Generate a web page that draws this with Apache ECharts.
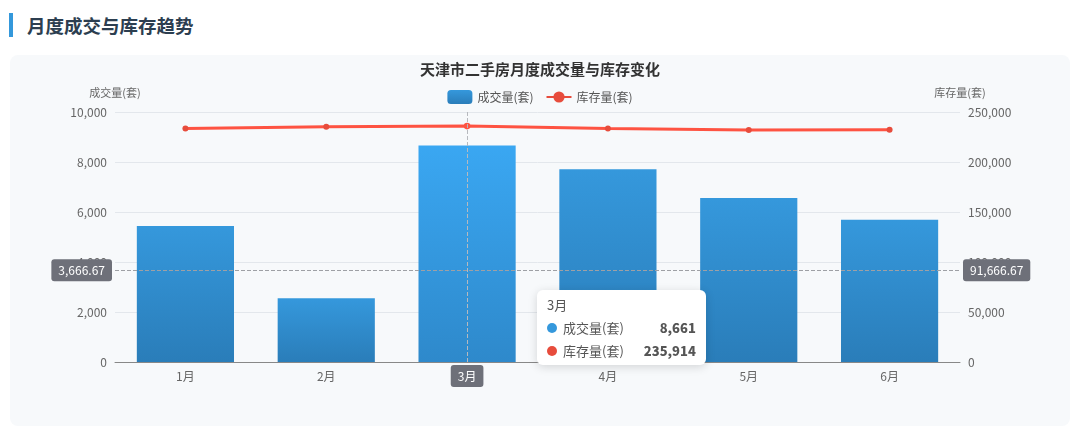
<!DOCTYPE html>
<html lang="zh-CN">
<head>
    <meta charset="UTF-8">
    <title>月度成交与库存趋势</title>
    <script src="https://cdn.jsdelivr.net/npm/echarts@6/dist/echarts.min.js"></script>
    <style>
        html, body {
            margin: 0;
            padding: 0;
            background: #fff;
            font-family: "Noto Sans CJK SC", "Noto Sans", sans-serif;
        }
        .section-title {
            position: absolute;
            left: 9px;
            top: 13px;
            height: 24px;
            line-height: 24px;
            border-left: 4px solid #3498db;
            padding-left: 14px;
            margin: 0;
            font-size: 18.5px;
            font-weight: bold;
            color: #2c3e50;
        }
        #trend-chart {
            position: absolute;
            left: 10px;
            top: 55px;
            width: 1060px;
            height: 371px;
            background: #f7f9fb;
            border-radius: 8px;
        }
    </style>
</head>
<body>
<!--标题-->
<h2 class="section-title">月度成交与库存趋势</h2>
<div id="trend-chart"></div>

<script>
    // 数据
    const months = ['1月', '2月', '3月', '4月', '5月', '6月'];
    const dealCount = [5440, 2550, 8661, 7710, 6560, 5690];
    const stockCount = [233600, 235200, 235914, 233500, 231900, 232200];

    let myChart = echarts.init(document.getElementById('trend-chart'));
    let myOption = {
        textStyle: {
            fontFamily: '"Noto Sans CJK SC", sans-serif'
        },
        title: {
            text: '天津市二手房月度成交量与库存变化',
            left: 'center',
            top: 2,
            textStyle: {
                fontSize: 15,
                fontWeight: 'bold',
                color: '#333'
            }
        },
        tooltip: {
            trigger: 'axis',
            borderWidth: 0,
            padding: [8, 10],
            extraCssText: 'box-shadow: 0 2px 10px rgba(0,0,0,0.15); border-radius: 6px;',
            textStyle: {fontSize: 13, color: '#555'},
            axisPointer: {
                type: 'cross',
                label: {backgroundColor: '#6e7079'}
            }
        },
        legend: {
            top: 30,
            left: 'center',
            itemGap: 12,
            textStyle: {
                color: '#555',
                fontSize: 12
            },
            data: ['成交量(套)', '库存量(套)']
        },
        grid: {
            left: 105,
            right: 110,
            top: 57,
            bottom: 64
        },
        xAxis: {
            type: 'category',
            data: months,
            axisLine: {lineStyle: {color: '#888'}},
            axisLabel: {color: '#666', fontSize: 12}
        },
        yAxis: [
            {
                type: 'value',
                name: '成交量(套)',
                min: 0,
                max: 10000,
                interval: 2000,
                nameGap: 14,
                nameTextStyle: {color: '#666', fontSize: 11},
                axisLabel: {color: '#666', fontSize: 12},
                splitLine: {lineStyle: {color: '#e3e7ec'}}
            },
            {
                type: 'value',
                name: '库存量(套)',
                min: 0,
                max: 250000,
                interval: 50000,
                nameGap: 14,
                nameTextStyle: {color: '#666', fontSize: 11},
                axisLabel: {color: '#666', fontSize: 12},
                splitLine: {show: false}
            }
        ],
        series: [
            {
                name: '成交量(套)',
                type: 'bar',
                barWidth: '69%',
                data: dealCount,
                itemStyle: {
                    color: new echarts.graphic.LinearGradient(0, 0, 0, 1, [
                        {offset: 0, color: '#3598dc'},
                        {offset: 1, color: '#2a7db9'}
                    ])
                }
            },
            {
                name: '库存量(套)',
                type: 'line',
                yAxisIndex: 1,
                data: stockCount,
                symbol: 'circle',
                symbolSize: 6,
                lineStyle: {width: 3, color: '#e74c3c'},
                itemStyle: {color: '#e74c3c'}
            }
        ]
    };
    myChart.setOption(myOption);

    // 模拟鼠标停在3月
    setTimeout(function () {
        myChart.dispatchAction({type: 'showTip', x: 507, y: 215 + 1 / 3});
    }, 50);
</script>
</body>
</html>
